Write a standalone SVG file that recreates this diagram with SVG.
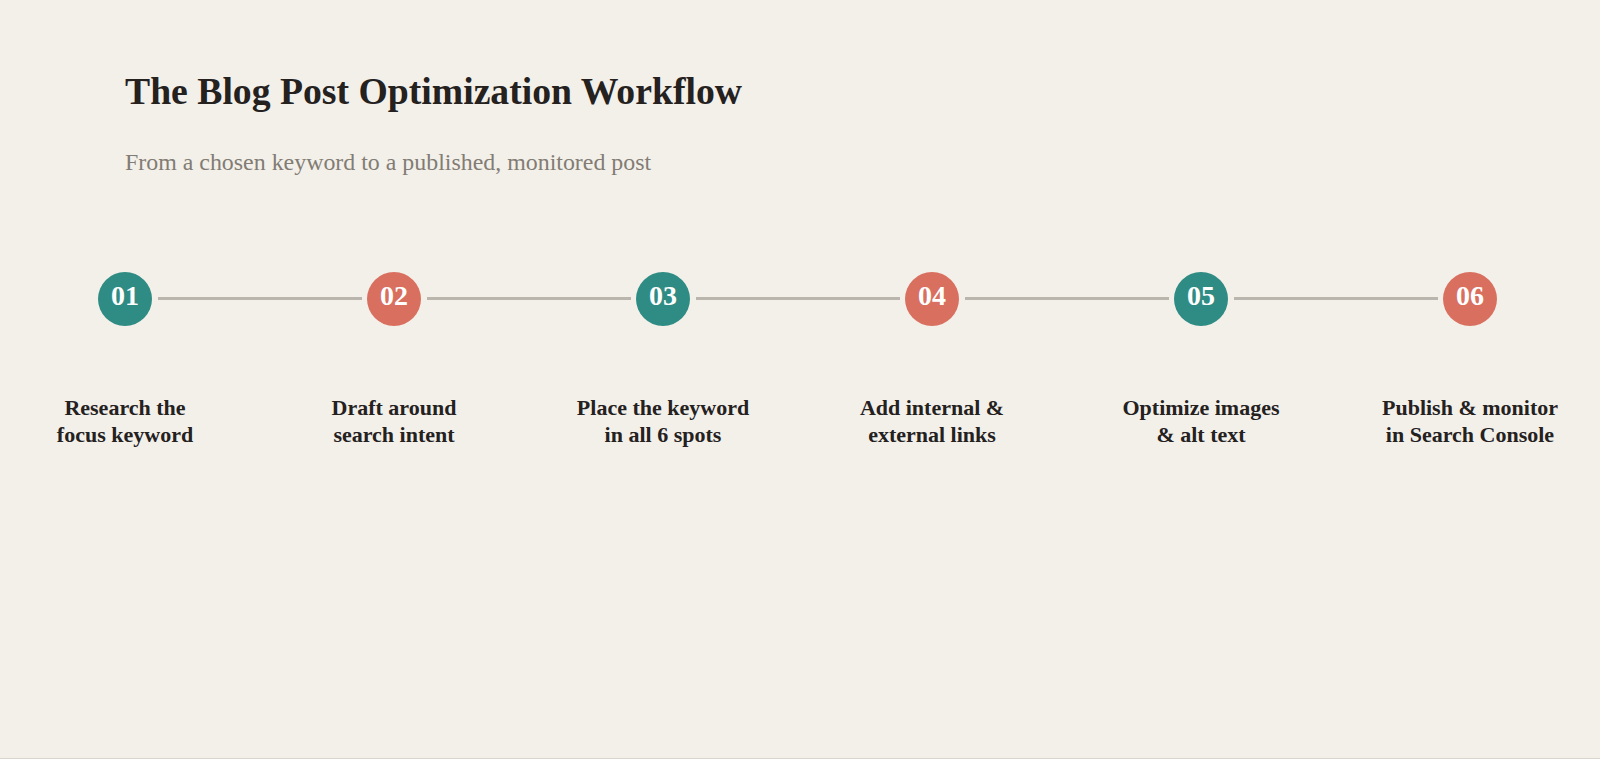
<svg xmlns="http://www.w3.org/2000/svg" width="1600" height="759" viewBox="0 0 1600 759">
<style>
.title{font-family:"Liberation Serif","Times New Roman",serif;font-weight:bold;font-size:37.7px;fill:#24211e}
.sub{font-family:"Liberation Serif","Times New Roman",serif;font-size:23.9px;fill:#827c74}
.num{font-family:"Liberation Serif","Times New Roman",serif;font-weight:bold;font-size:28px;fill:#ffffff;text-anchor:middle}
.lbl{font-family:"Liberation Serif","Times New Roman",serif;font-weight:bold;font-size:22px;fill:#24211e;text-anchor:middle}
.teal{fill:#2f8c84}
.coral{fill:#d9705f}
.conn{stroke:#bab5ad;stroke-width:3;fill:none}
</style>
<rect x="0" y="0" width="1600" height="759" fill="#f3f0ea"/>
<rect x="0" y="758" width="1600" height="1" fill="#d9d5cd"/>
<text class="title" x="125" y="104">The Blog Post Optimization Workflow</text>
<text class="sub" x="125" y="170">From a chosen keyword to a published, monitored post</text>
<g id="connectors">
<line class="conn" x1="158" y1="298.5" x2="362" y2="298.5"/>
<line class="conn" x1="427" y1="298.5" x2="631" y2="298.5"/>
<line class="conn" x1="696" y1="298.5" x2="900" y2="298.5"/>
<line class="conn" x1="965" y1="298.5" x2="1169" y2="298.5"/>
<line class="conn" x1="1234" y1="298.5" x2="1438" y2="298.5"/>
</g>
<g id="step1">
<circle class="teal" cx="125" cy="299" r="27"/>
<text class="num" x="125" y="305">01</text>
<text class="lbl" x="125" y="415">Research the</text>
<text class="lbl" x="125" y="442">focus keyword</text>
</g>
<g id="step2">
<circle class="coral" cx="394" cy="299" r="27"/>
<text class="num" x="394" y="305">02</text>
<text class="lbl" x="394" y="415">Draft around</text>
<text class="lbl" x="394" y="442">search intent</text>
</g>
<g id="step3">
<circle class="teal" cx="663" cy="299" r="27"/>
<text class="num" x="663" y="305">03</text>
<text class="lbl" x="663" y="415">Place the keyword</text>
<text class="lbl" x="663" y="442">in all 6 spots</text>
</g>
<g id="step4">
<circle class="coral" cx="932" cy="299" r="27"/>
<text class="num" x="932" y="305">04</text>
<text class="lbl" x="932" y="415">Add internal &amp;</text>
<text class="lbl" x="932" y="442">external links</text>
</g>
<g id="step5">
<circle class="teal" cx="1201" cy="299" r="27"/>
<text class="num" x="1201" y="305">05</text>
<text class="lbl" x="1201" y="415">Optimize images</text>
<text class="lbl" x="1201" y="442">&amp; alt text</text>
</g>
<g id="step6">
<circle class="coral" cx="1470" cy="299" r="27"/>
<text class="num" x="1470" y="305">06</text>
<text class="lbl" x="1470" y="415">Publish &amp; monitor</text>
<text class="lbl" x="1470" y="442">in Search Console</text>
</g>
</svg>
